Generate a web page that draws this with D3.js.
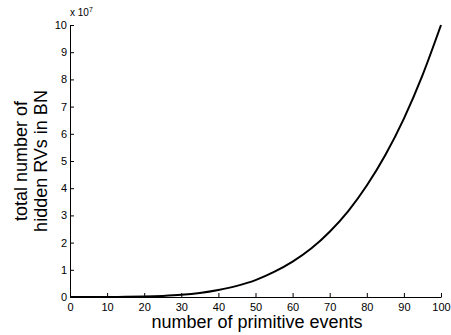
<!DOCTYPE html>
<html>
<head>
<meta charset="utf-8">
<script src="https://cdn.jsdelivr.net/npm/d3@7"></script>
<style>
  body { margin: 0; background: #fff; }
  text { font-family: "Liberation Sans", Arial, sans-serif; }
</style>
</head>
<body>
<div id="chart"></div>
<script>
// primitive events (x) and hidden RVs (units of 1e7)
const events = [0, 5, 10, 15, 20, 25, 30, 35, 40, 45, 50, 55, 60, 65, 70, 75, 80, 85, 90, 95, 100];
const hiddenRVs = [0, 0, 0.001, 0.005, 0.016, 0.04, 0.08, 0.15, 0.26, 0.41, 0.62, 0.92, 1.3, 1.78, 2.4, 3.16, 4.1, 5.22, 6.56, 8.15, 10];
const xTicks = [0, 10, 20, 30, 40, 50, 60, 70, 80, 90, 100];
const yTicks = [0, 1, 2, 3, 4, 5, 6, 7, 8, 9, 10];

const width = 451, height = 335;
const margin = {top: 25, right: 10, bottom: 38, left: 70};

const svg = d3.select("#chart").append("svg")
    .attr("width", width)
    .attr("height", height);

const x = d3.scaleLinear().domain([0, 100]).range([margin.left, 441]);
const y = d3.scaleLinear().domain([0, 10]).range([height - margin.bottom, margin.top]);

// x axis, ticks point inward
const xAxis = svg.append("g")
    .attr("transform", "translate(0," + y(0) + ")")
    .call(d3.axisBottom(x).tickValues(xTicks).tickSize(-4).tickPadding(6).tickSizeOuter(0));
xAxis.select(".domain").attr("stroke", "#000");
xAxis.selectAll("text").attr("font-size", 11).attr("fill", "#000");

const yAxis = svg.append("g")
    .attr("transform", "translate(" + x(0) + ",0)")
    .call(d3.axisLeft(y).tickValues(yTicks).tickSize(-4).tickPadding(3).tickSizeOuter(0));
yAxis.select(".domain").attr("stroke", "#000");
yAxis.selectAll("text").attr("font-size", 11).attr("fill", "#000");

// exponent label
const expo = svg.append("text")
    .attr("x", x(0))
    .attr("y", margin.top - 9)
    .attr("font-size", 10);
expo.append("tspan").text("x 10");
expo.append("tspan").attr("dy", -4).attr("font-size", 7).text("7");

// the curve
const line = d3.line()
    .x((d, i) => x(events[i]))
    .y(d => y(d))
    .curve(d3.curveMonotoneX);

svg.append("path")
    .datum(hiddenRVs)
    .attr("fill", "none")
    .attr("stroke", "#000")
    .attr("stroke-width", 2)
    .attr("d", line);

// axis titles
svg.append("text")
    .attr("x", 257)
    .attr("y", 328)
    .attr("text-anchor", "middle")
    .attr("font-size", 18)
    .text("number of primitive events");

const yl = svg.append("text")
    .attr("transform", "translate(0,161) rotate(-90)")
    .attr("text-anchor", "middle")
    .attr("font-size", 18);
yl.append("tspan").attr("x", 0).attr("y", 27).text("total number of");
yl.append("tspan").attr("x", 0).attr("y", 47).text("hidden RVs in BN");
</script>
</body>
</html>
